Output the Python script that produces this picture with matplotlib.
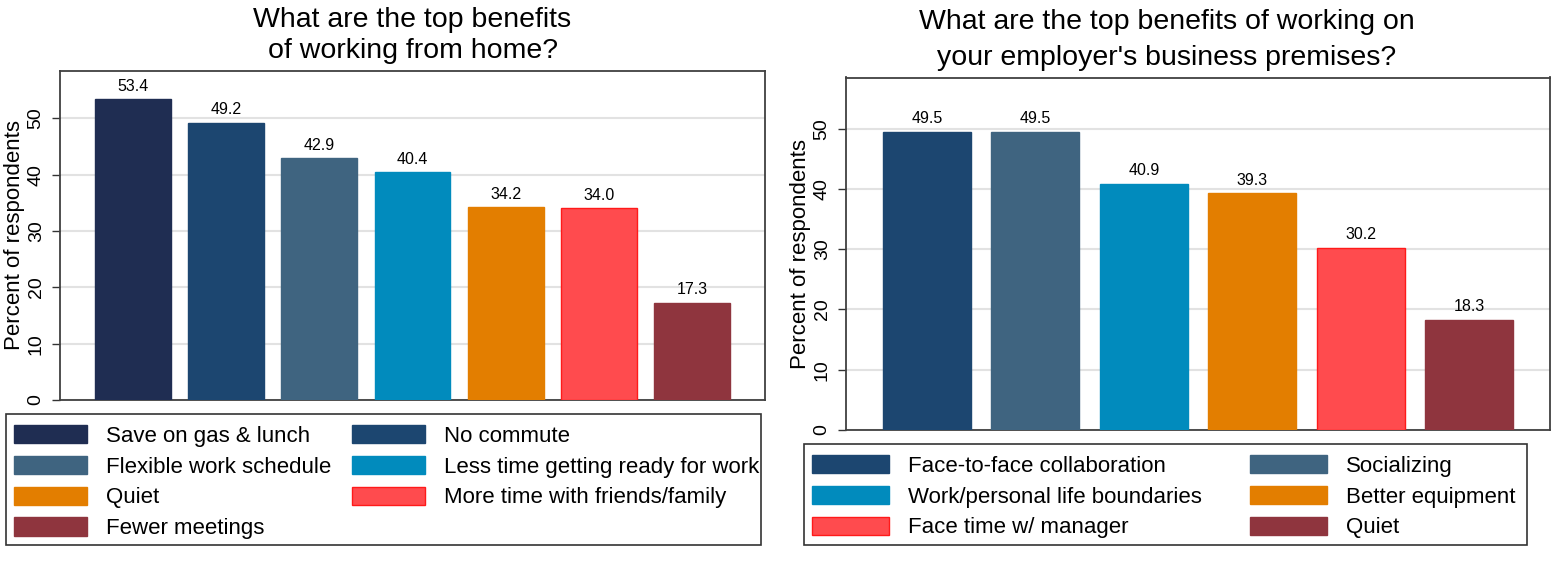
import matplotlib
matplotlib.use('Agg')
import matplotlib.pyplot as plt
from matplotlib.patches import Patch, Rectangle

plt.rcParams['font.family'] = ['Liberation Sans', 'DejaVu Sans']

# ---- data ----
home_labels = ['Save on gas & lunch', 'No commute', 'Flexible work schedule',
               'Less time getting ready for work', 'Quiet',
               'More time with friends/family', 'Fewer meetings']
home_values = [53.4, 49.2, 42.9, 40.4, 34.2, 34.0, 17.3]
home_colors = ['#1f2d52', '#1c4670', '#3f6480', '#018bbd', '#e37e00', '#ff4b4e', '#8f353e']

office_labels = ['Face-to-face collaboration', 'Socializing',
                 'Work/personal life boundaries', 'Better equipment',
                 'Face time w/ manager', 'Quiet']
office_values = [49.5, 49.5, 40.9, 39.3, 30.2, 18.3]
office_colors = ['#1c4670', '#3f6480', '#018bbd', '#e37e00', '#ff4b4e', '#8f353e']

W, H = 1567, 570
fig = plt.figure(figsize=(W / 100, H / 100), dpi=100)


def px_ax(x0, y0, x1, y1):
    return fig.add_axes([x0 / W, 1 - y1 / H, (x1 - x0) / W, (y1 - y0) / H])


def edge_of(c):
    return '#ff1a1a' if c == '#ff4b4e' else c


def draw_panel(ax, values, colors, margin):
    xs = range(len(values))
    ax.bar(xs, values, width=0.81, color=colors,
           edgecolor=[edge_of(c) for c in colors], linewidth=1, zorder=3)
    for x, v in zip(xs, values):
        ax.annotate(f'{v:.1f}', (x, v), xytext=(0, 4), textcoords='offset points',
                    ha='center', va='bottom', fontsize=11.5)
    ax.set_xlim(-margin, len(values) - 1 + margin)
    ax.set_ylim(0, 58.5)
    ax.set_yticks([0, 10, 20, 30, 40, 50])
    ax.set_xticks([])
    ax.tick_params(axis='y', labelsize=14, length=6, width=1, pad=5,
                   labelrotation=90, color='#333333')
    for lbl in ax.get_yticklabels():
        lbl.set_va('center')
    ax.grid(axis='y', color='#e2e2e2', linewidth=1.5, zorder=0)
    for s in ax.spines.values():
        s.set_color('#404040')
        s.set_linewidth(1.3)
    ax.set_ylabel('Percent of respondents', fontsize=16, labelpad=2)


def draw_legend(labels, colors, anchor, colspace, hlen, box):
    n = len(labels)
    order = list(range(0, n, 2)) + list(range(1, n, 2))
    handles = [Patch(facecolor=colors[i], edgecolor=edge_of(colors[i]), linewidth=1)
               for i in order]
    fig.legend(handles, [labels[i] for i in order], ncol=2,
               loc='upper left', bbox_to_anchor=(anchor[0] / W, 1 - anchor[1] / H),
               frameon=False, fontsize=16, borderpad=0, borderaxespad=0,
               handlelength=hlen, handleheight=0.9, handletextpad=0.85,
               columnspacing=colspace, labelspacing=0.40)
    x0, y0, x1, y1 = box
    fig.add_artist(Rectangle((x0 / W, 1 - y1 / H), (x1 - x0) / W, (y1 - y0) / H,
                             transform=fig.transFigure, fill=False,
                             edgecolor='#333333', linewidth=1.2))


ax1 = px_ax(60, 70.5, 765, 400)
draw_panel(ax1, home_values, home_colors, 0.78)
ax2 = px_ax(846, 77.5, 1550, 430)
draw_panel(ax2, office_values, office_colors, 0.745)

fig.text(412.5 / W, 1 - 58.5 / H, 'What are the top benefits\nof working from home?',
         ha='center', va='baseline', fontsize=20.5, linespacing=1.27)
fig.text(1167 / W, 1 - 65 / H,
         "What are the top benefits of working on\nyour employer's business premises?",
         ha='center', va='baseline', fontsize=20.5, linespacing=1.5)

draw_legend(home_labels, home_colors, (14, 425), 0.91, 3.3, (6, 414, 761, 545))
draw_legend(office_labels, office_colors, (812, 455), 2.2, 3.45, (804, 444, 1527, 545))

fig.savefig('out.png', dpi=100)
